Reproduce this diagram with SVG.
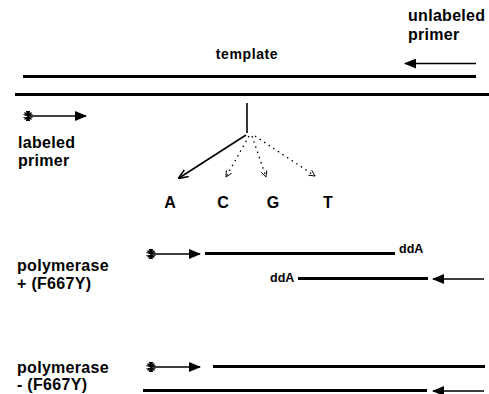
<svg xmlns="http://www.w3.org/2000/svg" width="489" height="394" viewBox="0 0 489 394">
<style>
text{font-family:"Liberation Sans",Arial,sans-serif;font-weight:bold;fill:#000}
.lbl{font-size:16px;letter-spacing:0.3px}
.tpl{font-size:14px;letter-spacing:0.6px}
.base{font-size:16px}
.dda{font-size:12.5px}
.thick{stroke:#000;stroke-width:3;fill:none}
.thin{stroke:#000;stroke-width:1.6;fill:none}
.dot{stroke:#000;stroke-width:1.3;stroke-dasharray:1.5 4;fill:none}
.star{stroke:#000;stroke-width:1.3;fill:none}
</style>
<defs>
<marker id="ah" viewBox="0 0 12 10" refX="11" refY="5" markerWidth="12" markerHeight="10" markerUnits="userSpaceOnUse" orient="auto">
<path d="M0,0 L12,5 L0,10 Z" fill="#000"/>
</marker>
<marker id="open" viewBox="0 0 8 8" refX="7" refY="4" markerWidth="7" markerHeight="7" markerUnits="userSpaceOnUse" orient="auto">
<path d="M0,0.5 L7,4 L0,7.5" fill="none" stroke="#000" stroke-width="1"/>
</marker>
<marker id="thinah" viewBox="0 0 10 10" refX="9" refY="5" markerWidth="10" markerHeight="10" markerUnits="userSpaceOnUse" orient="auto">
<path d="M0,1 L10,5 L0,9" fill="none" stroke="#000" stroke-width="1.5"/>
</marker>
<g id="burst">
<path class="star" d="M0,-5 L0,5 M-3.5,-3.5 L3.5,3.5 M-3.5,3.5 L3.5,-3.5 M-4.5,-1.5 L4.5,1.5 M-4.5,1.5 L4.5,-1.5 M-1.5,-5 L1.5,5 M1.5,-5 L-1.5,5"/>
</g>
</defs>

<g id="template">
<text class="tpl" x="247" y="59" text-anchor="middle">template</text>
<line class="thick" x1="23" y1="76.5" x2="476" y2="76.5"/>
<line class="thick" x1="15" y1="94.5" x2="489" y2="94.5"/>
</g>

<g id="unlabeled-primer">
<text class="lbl" x="408" y="21">unlabeled</text>
<text class="lbl" x="408" y="40">primer</text>
<line class="thin" x1="476" y1="63.5" x2="405" y2="63.5" marker-end="url(#ah)"/>
</g>

<g id="labeled-primer">
<use href="#burst" x="28" y="116"/>
<line class="thin" x1="28" y1="116" x2="86" y2="116" marker-end="url(#ah)"/>
<text class="lbl" x="18" y="148">labeled</text>
<text class="lbl" x="18" y="166">primer</text>
</g>

<g id="connectors">
<line class="thin" x1="247" y1="103" x2="247" y2="133"/>
<line class="thin" x1="246" y1="135" x2="179" y2="178" marker-end="url(#thinah)"/>
<line class="dot" x1="249" y1="136" x2="226" y2="177" marker-end="url(#open)"/>
<line class="dot" x1="252" y1="136" x2="266" y2="177" marker-end="url(#open)"/>
<line class="dot" x1="255" y1="136" x2="315" y2="176" marker-end="url(#open)"/>
</g>

<g id="bases">
<text class="base" x="170" y="208" text-anchor="middle">A</text>
<text class="base" x="223" y="208" text-anchor="middle">C</text>
<text class="base" x="273" y="208" text-anchor="middle">G</text>
<text class="base" x="328" y="208" text-anchor="middle">T</text>
</g>

<g id="polymerase-plus">
<text class="lbl" x="17" y="271">polymerase</text>
<text class="lbl" x="17" y="289">+ (F667Y)</text>
<use href="#burst" x="151" y="254"/>
<line class="thin" x1="151" y1="254" x2="200" y2="254" marker-end="url(#ah)"/>
<line class="thick" x1="205" y1="253.5" x2="395" y2="253.5"/>
<text class="dda" x="399" y="253">ddA</text>
<text class="dda" x="270" y="282">ddA</text>
<line class="thick" x1="298" y1="278.5" x2="428" y2="278.5"/>
<line class="thin" x1="484" y1="279" x2="433" y2="279" marker-end="url(#ah)"/>
</g>

<g id="polymerase-minus">
<text class="lbl" x="17" y="373">polymerase</text>
<text class="lbl" x="17" y="390">- (F667Y)</text>
<use href="#burst" x="151" y="367"/>
<line class="thin" x1="151" y1="367" x2="200" y2="367" marker-end="url(#ah)"/>
<line class="thick" x1="213" y1="366.5" x2="485" y2="366.5"/>
<line class="thick" x1="143" y1="390.5" x2="427" y2="390.5"/>
<line class="thin" x1="484" y1="391" x2="433" y2="391" marker-end="url(#ah)"/>
</g>
</svg>
